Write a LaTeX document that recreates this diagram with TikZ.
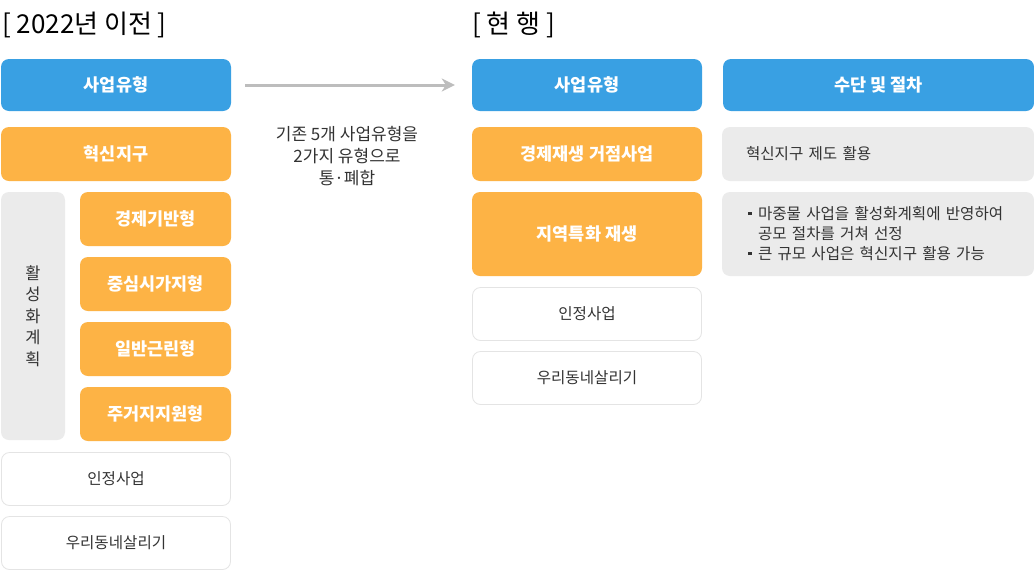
\documentclass[tikz,border=0pt]{standalone}
\usepackage{fontspec}
\setmainfont{Noto Sans CJK KR}
\usetikzlibrary{arrows.meta}
\definecolor{cblue}{HTML}{39A0E3}
\definecolor{corange}{HTML}{FDB345}
\definecolor{cgray}{HTML}{EBEBEB}
\definecolor{cline}{HTML}{E4E4E4}
\definecolor{ctext}{HTML}{333333}
\definecolor{carrow}{HTML}{BDBDBD}
\newcommand{\bul}{\hspace*{2pt}\makebox[10pt][l]{\rule[0.3em]{3.5pt}{3.5pt}}}
\tikzset{
  base/.style={rounded corners=8pt, inner sep=0pt, align=center},
  bluebox/.style={base, fill=cblue, text=white, font=\fontsize{17.5}{20}\selectfont\bfseries},
  orangebox/.style={base, fill=corange, text=white, font=\fontsize{17.5}{20}\selectfont\bfseries},
  graybox/.style={base, fill=cgray, text=ctext, font=\fontsize{15.6}{20}\selectfont},
  whitebox/.style={base, fill=white, draw=cline, line width=0.8pt, text=ctext, font=\fontsize{15.6}{18}\selectfont},
  titletext/.style={anchor=west, inner sep=0pt, text=black, font=\fontsize{26}{28}\selectfont},
}
\begin{document}
\begin{tikzpicture}[x=1pt,y=-1pt]
\path[use as bounding box, fill=white] (0,0) rectangle (1034,571);
% titles
\node[titletext] (t1) at (2,25) {[ 2022년 이전 ]};
\node[titletext] (t2) at (472,25) {[ 현 행 ]};
% left column
\node[bluebox, minimum width=230pt, minimum height=52pt] (lhead) at (116,85) {사업유형};
\node[orangebox, minimum width=230pt, minimum height=54pt] (lhx) at (116,154) {혁신지구};
\node[graybox, minimum width=64pt, minimum height=248pt, font=\fontsize{16.5}{21.5}\selectfont] (lact) at (33,316) {활\\성\\화\\계\\획};
\node[orangebox, minimum width=151pt, minimum height=54pt] (l1) at (155.5,219) {경제기반형};
\node[orangebox, minimum width=151pt, minimum height=54pt] (l2) at (155.5,284) {중심시가지형};
\node[orangebox, minimum width=151pt, minimum height=54pt] (l3) at (155.5,349) {일반근린형};
\node[orangebox, minimum width=151pt, minimum height=54pt] (l4) at (155.5,414) {주거지지원형};
\node[whitebox, minimum width=229pt, minimum height=53pt] (l5) at (116,479) {인정사업};
\node[whitebox, minimum width=229pt, minimum height=53pt] (l6) at (116,543) {우리동네살리기};
% right column
\node[bluebox, minimum width=230pt, minimum height=52pt] (rhead) at (587,85) {사업유형};
\node[bluebox, minimum width=311pt, minimum height=52pt] (rhead2) at (878.5,85) {수단 및 절차};
\node[orangebox, minimum width=230pt, minimum height=54pt] (r1) at (587,154) {경제재생 거점사업};
\node[orangebox, minimum width=230pt, minimum height=84pt] (r2) at (587,234) {지역특화 재생};
\node[whitebox, minimum width=229pt, minimum height=53pt] (r3) at (587,314) {인정사업};
\node[whitebox, minimum width=229pt, minimum height=53pt] (r4) at (587,378) {우리동네살리기};
\node[graybox, minimum width=312pt, minimum height=54pt, text width=264pt, inner xsep=24pt, align=left] (g1) at (878,154) {혁신지구 제도 활용};
\node[graybox, minimum width=312pt, minimum height=84pt, text width=264pt, inner xsep=24pt, align=left] (g2) at (878,234) {\bul 마중물 사업을 활성화계획에 반영하여\\\hspace*{12pt}공모 절차를 거쳐 선정\\\bul 큰 규모 사업은 혁신지구 활용 가능};
% arrow
\draw[carrow, line width=3pt, shorten <=14pt, shorten >=17pt, -{Stealth[length=13pt,width=13pt,inset=4pt]}] (lhead) -- (rhead);
\node[align=center, inner sep=0pt, text=ctext, font=\fontsize{17}{22}\selectfont] (note) at (347,156) {기존 5개 사업유형을\\2가지 유형으로\\통·폐합};
\end{tikzpicture}
\end{document}
